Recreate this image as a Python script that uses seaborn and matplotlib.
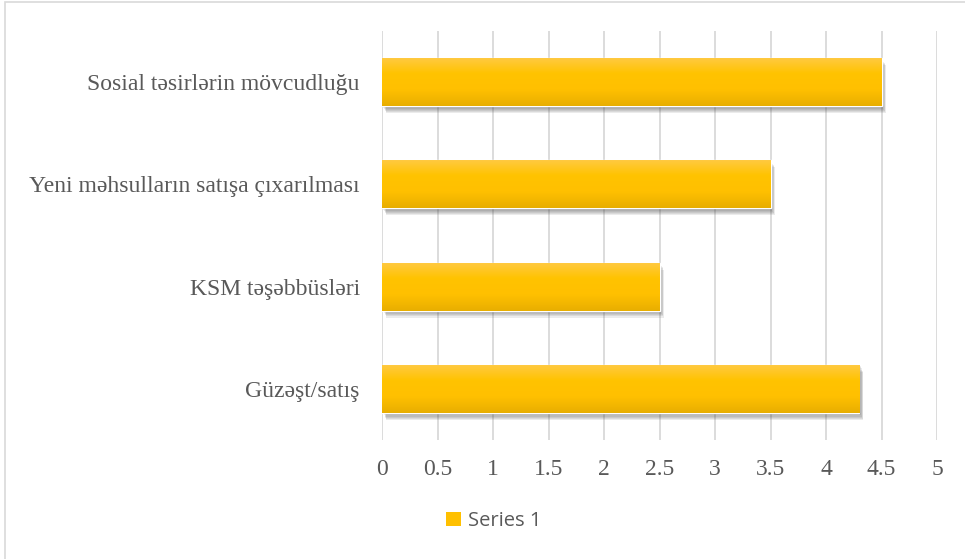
import numpy as np
import pandas as pd
import matplotlib
matplotlib.use("Agg")
import matplotlib.pyplot as plt
import matplotlib.patheffects as pe
from matplotlib.patches import Rectangle
from matplotlib.colors import LinearSegmentedColormap
import seaborn as sns

categories = [
    "Sosial təsirlərin mövcudluğu",
    "Yeni məhsulların satışa çıxarılması",
    "KSM təşəbbüsləri",
    "Güzəşt/satış",
]
values = [4.5, 3.5, 2.5, 4.3]
series_name = "Series 1"
x_ticks = [0, 0.5, 1, 1.5, 2, 2.5, 3, 3.5, 4, 4.5, 5]
x_tick_labels = ["0", "0.5", "1", "1.5", "2", "2.5", "3", "3.5", "4", "4.5", "5"]

df = pd.DataFrame({"category": categories, "value": values})

sns.set_style("white")
plt.rcParams["font.family"] = ["Liberation Serif", "DejaVu Serif"]

fig = plt.figure(figsize=(9.65, 5.59), dpi=100)
ax = fig.add_axes([382 / 965, 1 - 440 / 559, (937 - 382) / 965, (440 - 31) / 559])

sns.barplot(data=df, x="value", y="category", orient="h", color="#FFC000",
            width=0.47, ax=ax, zorder=3)

# vertical gradient fill + soft, blurred-looking drop shadow on each bar
grad = LinearSegmentedColormap.from_list(
    "gold", ["#FFCA45", "#FFC300", "#FFC000", "#E8AE00"])
gimg = np.linspace(0, 1, 256).reshape(-1, 1)
shadow = [pe.SimplePatchShadow(offset=(1.0 + 0.4 * k, -1.0 - 0.8 * k), alpha=0.1,
                               shadow_rgbFace="#404040") for k in range(6)]
for p in ax.patches:
    x0, y0 = p.get_x(), p.get_y()
    w, h = p.get_width(), p.get_height()
    p.set_path_effects(shadow + [pe.Normal()])
    im = ax.imshow(gimg, cmap=grad, aspect="auto", extent=(x0, x0 + w, y0 + h, y0),
                   zorder=4, interpolation="bilinear")
    im.set_clip_path(p)

ax.set_xlim(0, 5)
ax.set_ylim(3.5, -0.5)
ax.set_xticks(x_ticks)
ax.set_xticklabels(x_tick_labels)
ax.xaxis.grid(True, color="#D9D9D9", linewidth=1.3, zorder=0)
ax.set_axisbelow(True)
for s in ax.spines.values():
    s.set_visible(False)
ax.tick_params(axis="both", length=0, labelsize=17, colors="#595959")
ax.tick_params(axis="x", pad=14)
ax.tick_params(axis="y", pad=16)
ax.set_xlabel("")
ax.set_ylabel("")

# legend
handle = Rectangle((0, 0), 1, 1, facecolor="#FFC000", edgecolor="none")
leg = fig.legend([handle], [series_name], loc="center", bbox_to_anchor=(494 / 965, 1 - 521 / 559),
                 frameon=False, handlelength=0.75, handleheight=0.75, handletextpad=0.35,
                 prop={"family": ["Open Sans", "DejaVu Sans"], "size": 14.5})
for t in leg.get_texts():
    t.set_color("#595959")

# chart frame
fig.patches.append(Rectangle((5 / 965, -0.05), 1.0, 1 - 2 / 559 + 0.05,
                             transform=fig.transFigure, fill=False,
                             edgecolor="#D9D9D9", linewidth=1.2))

fig.savefig("out.png", dpi=100)
